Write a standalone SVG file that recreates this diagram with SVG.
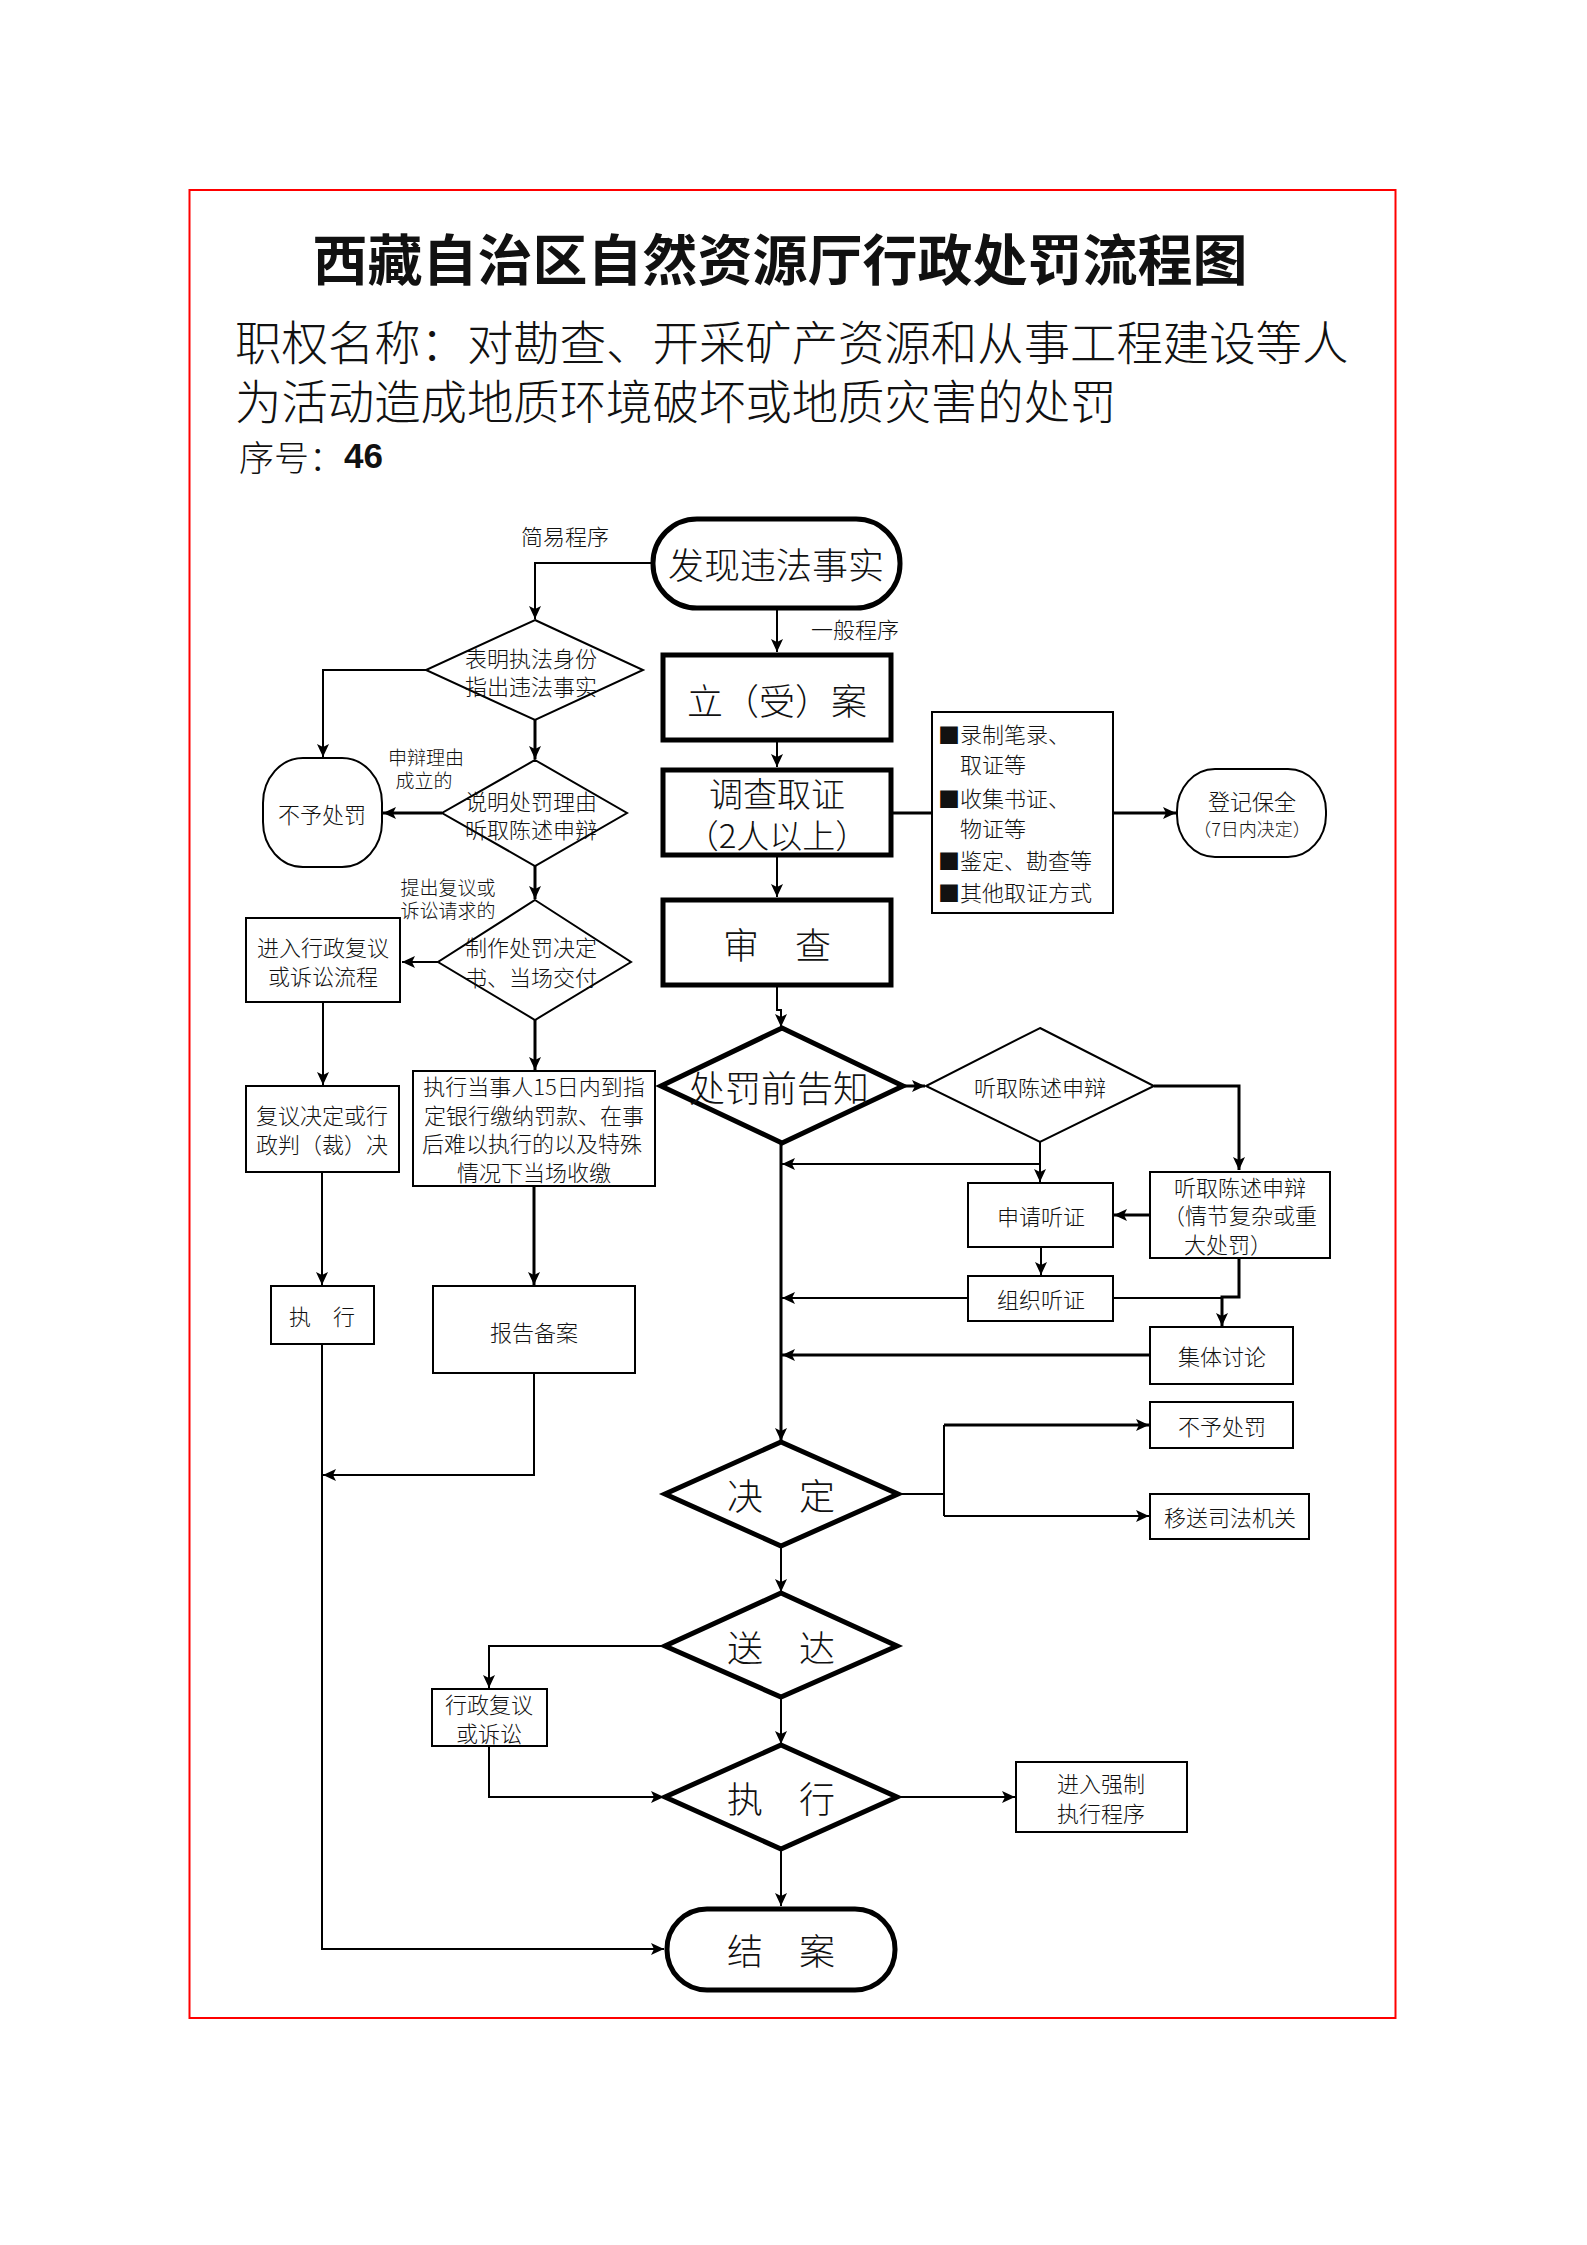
<svg xmlns="http://www.w3.org/2000/svg" width="1587" height="2245" viewBox="0 0 1587 2245">
<style>
text{font-family:"Noto Sans CJK SC","Liberation Sans",sans-serif;fill:#111;font-weight:300}
.c{text-anchor:middle;dominant-baseline:central}
.l{dominant-baseline:central}
.thick{fill:#fff;stroke:#000;stroke-width:5}
.thin{fill:#fff;stroke:#000;stroke-width:2}
.ln{fill:none;stroke:#000;stroke-width:2}
.lnb{fill:none;stroke:#000;stroke-width:3}
.f22{font-size:22px}
.f19{font-size:19px}
.f18{font-size:18px}
.f36{font-size:36px}
</style>
<defs>
<marker id="a" markerUnits="userSpaceOnUse" markerWidth="14" markerHeight="14" viewBox="0 0 14 14" refX="13" refY="7" orient="auto">
<path d="M0,1 L13,7 L0,13 L3,7 Z" fill="#000"/>
</marker>
</defs>
<rect x="189.5" y="190" width="1206" height="1828" fill="none" stroke="#f00" stroke-width="2"/>
<g id="title">
<text x="780" y="256" class="c" style="font-size:55px;font-weight:700">西藏自治区自然资源厅行政处罚流程图</text>
<text x="235" y="339" class="l" style="font-size:46.4px">职权名称：对勘查、开采矿产资源和从事工程建设等人</text>
<text x="235" y="398" class="l" style="font-size:46.4px">为活动造成地质环境破坏或地质灾害的处罚</text>
<text x="239" y="455" class="l" style="font-size:35px">序号：<tspan style="font-weight:700;font-family:'Liberation Sans',sans-serif">46</tspan></text>
</g>
<g id="connectors">
<path class="ln" d="M651,563 H535 V619" marker-end="url(#a)"/>
<path class="ln" d="M777,610 V652" marker-end="url(#a)"/>
<path class="ln" d="M426,670 H323 V757" marker-end="url(#a)"/>
<path class="lnb" d="M535,720 V759" marker-end="url(#a)"/>
<path class="lnb" d="M442,813 H383" marker-end="url(#a)"/>
<path class="lnb" d="M535,866 V899" marker-end="url(#a)"/>
<path class="ln" d="M438,962 H402" marker-end="url(#a)"/>
<path class="ln" d="M323,1002 V1085" marker-end="url(#a)"/>
<path class="lnb" d="M535,1020 V1070" marker-end="url(#a)"/>
<path class="ln" d="M322,1172 V1285" marker-end="url(#a)"/>
<path class="lnb" d="M534,1186 V1285" marker-end="url(#a)"/>
<path class="ln" d="M534,1373 V1475 H323" marker-end="url(#a)"/>
<path class="ln" d="M322,1344 V1949 H664" marker-end="url(#a)"/>
<path class="ln" d="M777,742 V767" marker-end="url(#a)"/>
<path class="ln" d="M777,857 V897" marker-end="url(#a)"/>
<path class="ln" d="M777,987 V1010 H781 V1027" marker-end="url(#a)"/>
<path class="lnb" d="M893,813 H932"/>
<path class="lnb" d="M1113,813 H1176" marker-end="url(#a)"/>
<path class="lnb" d="M903,1086 H925" marker-end="url(#a)"/>
<path class="ln" d="M1040,1142 V1182" marker-end="url(#a)"/>
<path class="ln" d="M1040,1164 H782" marker-end="url(#a)"/>
<path class="lnb" d="M1154,1086 H1239 V1170" marker-end="url(#a)"/>
<path class="lnb" d="M1150,1215 H1114" marker-end="url(#a)"/>
<path class="ln" d="M1041,1247 V1275" marker-end="url(#a)"/>
<path class="ln" d="M968,1298 H782" marker-end="url(#a)"/>
<path class="ln" d="M1113,1298 H1222"/>
<path class="lnb" d="M1239,1258 V1297 H1222 V1326" marker-end="url(#a)"/>
<path class="lnb" d="M1150,1355 H782" marker-end="url(#a)"/>
<path class="lnb" d="M781,1143 V1441" marker-end="url(#a)"/>
<path class="ln" d="M898,1494 H944"/>
<path class="ln" d="M944,1425 V1516"/>
<path class="lnb" d="M944,1425 H1149" marker-end="url(#a)"/>
<path class="ln" d="M944,1516 H1149" marker-end="url(#a)"/>
<path class="ln" d="M781,1546 V1592" marker-end="url(#a)"/>
<path class="ln" d="M665,1646 H489 V1688" marker-end="url(#a)"/>
<path class="ln" d="M489,1746 V1797 H664" marker-end="url(#a)"/>
<path class="ln" d="M781,1697 V1744" marker-end="url(#a)"/>
<path class="ln" d="M897,1797 H1015" marker-end="url(#a)"/>
<path class="ln" d="M781,1849 V1906" marker-end="url(#a)"/>
<text x="565" y="535" class="c f22">简易程序</text>
<text x="855" y="628" class="c f22">一般程序</text>
<text x="426" y="756" class="c f19">申辩理由</text>
<text x="424" y="779" class="c f19">成立的</text>
<text x="448" y="886" class="c f19">提出复议或</text>
<text x="448" y="909" class="c f19">诉讼请求的</text>
</g>
<g id="n-faxian">
<rect x="653" y="519" width="247" height="89" rx="44" ry="44" class="thick"/>
<text x="776" y="563" class="c f36">发现违法事实</text>
</g>
<g id="n-biaoming">
<polygon points="535,620 643,670 535,720 426,670" class="thin" stroke-width="1.5"/>
<text x="531" y="657" class="c f22">表明执法身份</text>
<text x="531" y="685" class="c f22">指出违法事实</text>
</g>
<g id="n-shuoming">
<polygon points="535,760 627,813 535,866 442,813" class="thin" stroke-width="1.5"/>
<text x="531" y="800" class="c f22">说明处罚理由</text>
<text x="531" y="828" class="c f22">听取陈述申辩</text>
</g>
<g id="n-zhizuo">
<polygon points="535,900 631,962 535,1020 438,962" class="thin" stroke-width="1.5"/>
<text x="531" y="946" class="c f22">制作处罚决定</text>
<text x="531" y="976" class="c f22">书、当场交付</text>
</g>
<g id="n-buyu1">
<rect x="263" y="758" width="119" height="109" rx="40" ry="45" class="thin"/>
<text x="322" y="813" class="c f22">不予处罚</text>
</g>
<g id="n-jinru">
<rect x="246" y="918" width="154" height="84" class="thin"/>
<text x="323" y="946" class="c f22">进入行政复议</text>
<text x="323" y="975" class="c f22">或诉讼流程</text>
</g>
<g id="n-fuyi">
<rect x="246" y="1086" width="153" height="86" class="thin"/>
<text x="322" y="1114" class="c f22">复议决定或行</text>
<text x="322" y="1143" class="c f22">政判（裁）决</text>
</g>
<g id="n-zhixing-dangshi">
<rect x="413" y="1071" width="242" height="115" class="thin"/>
<text x="534" y="1085" class="c f22">执行当事人15日内到指</text>
<text x="534" y="1114" class="c f22">定银行缴纳罚款、在事</text>
<text x="532" y="1142" class="c f22">后难以执行的以及特殊</text>
<text x="534" y="1171" class="c f22">情况下当场收缴</text>
</g>
<g id="n-zhixing1">
<rect x="271" y="1286" width="103" height="58" class="thin"/>
<text x="322" y="1315" class="c f22">执　行</text>
</g>
<g id="n-baogao">
<rect x="433" y="1286" width="202" height="87" class="thin"/>
<text x="534" y="1331" class="c f22">报告备案</text>
</g>
<g id="n-lian">
<rect x="663" y="655" width="228" height="85" class="thick"/>
<text x="777" y="699" class="c f36">立（受）案</text>
</g>
<g id="n-diaocha">
<rect x="663" y="770" width="228" height="85" class="thick"/>
<text x="777" y="792" class="c" style="font-size:34px">调查取证</text>
<text x="777" y="834" class="c" style="font-size:33px">（2人以上）</text>
</g>
<g id="n-shencha">
<rect x="663" y="900" width="228" height="85" class="thick"/>
<text x="777" y="943" class="c f36">审　查</text>
</g>
<g id="n-evidence">
<rect x="932" y="712" width="181" height="201" class="thin" stroke-width="1.5"/>
<text x="938" y="733" class="l f22">■录制笔录、</text>
<text x="960" y="763" class="l f22">取证等</text>
<text x="938" y="797" class="l f22">■收集书证、</text>
<text x="960" y="827" class="l f22">物证等</text>
<text x="938" y="859" class="l f22">■鉴定、勘查等</text>
<text x="938" y="891" class="l f22">■其他取证方式</text>
</g>
<g id="n-dengji">
<rect x="1177" y="769" width="149" height="88" rx="38" ry="42" class="thin"/>
<text x="1252" y="800" class="c f22">登记保全</text>
<text x="1252" y="828" class="c f18">（7日内决定）</text>
</g>
<g id="n-gaozhi">
<polygon points="782,1028 903,1086 782,1143 661,1086" class="thick"/>
<text x="779" y="1086" class="c f36">处罚前告知</text>
</g>
<g id="n-tingqu-d">
<polygon points="1040,1028 1154,1086 1040,1142 926,1086" class="thin" stroke-width="1.5"/>
<text x="1040" y="1086" class="c f22">听取陈述申辩</text>
</g>
<g id="n-shenqing">
<rect x="968" y="1183" width="145" height="64" class="thin"/>
<text x="1041" y="1215" class="c f22">申请听证</text>
</g>
<g id="n-tingqu-b">
<rect x="1150" y="1172" width="180" height="86" class="thin"/>
<text x="1240" y="1186" class="c f22">听取陈述申辩</text>
<text x="1240" y="1214" class="c f22">（情节复杂或重</text>
<text x="1228" y="1243" class="c f22">大处罚）</text>
</g>
<g id="n-zuzhi">
<rect x="968" y="1276" width="145" height="45" class="thin"/>
<text x="1041" y="1298" class="c f22">组织听证</text>
</g>
<g id="n-jiti">
<rect x="1150" y="1327" width="143" height="57" class="thin"/>
<text x="1222" y="1355" class="c f22">集体讨论</text>
</g>
<g id="n-jueding">
<polygon points="781,1442 898,1494 781,1546 665,1494" class="thick"/>
<text x="781" y="1494" class="c f36">决　定</text>
</g>
<g id="n-buyu2">
<rect x="1150" y="1402" width="143" height="46" class="thin"/>
<text x="1222" y="1425" class="c f22">不予处罚</text>
</g>
<g id="n-yisong">
<rect x="1150" y="1494" width="159" height="45" class="thin"/>
<text x="1230" y="1516" class="c f22">移送司法机关</text>
</g>
<g id="n-songda">
<polygon points="781,1593 897,1646 781,1697 665,1646" class="thick"/>
<text x="781" y="1646" class="c f36">送　达</text>
</g>
<g id="n-fuyi2">
<rect x="432" y="1689" width="115" height="57" class="thin" stroke-width="1.5"/>
<text x="489" y="1703" class="c f22">行政复议</text>
<text x="489" y="1732" class="c f22">或诉讼</text>
</g>
<g id="n-zhixing2">
<polygon points="781,1745 897,1797 781,1849 665,1797" class="thick"/>
<text x="781" y="1797" class="c f36">执　行</text>
</g>
<g id="n-qiangzhi">
<rect x="1016" y="1762" width="171" height="70" class="thin"/>
<text x="1101" y="1782" class="c f22">进入强制</text>
<text x="1101" y="1812" class="c f22">执行程序</text>
</g>
<g id="n-jiean">
<rect x="667" y="1909" width="228" height="81" rx="40" ry="40" class="thick"/>
<text x="781" y="1949" class="c f36">结　案</text>
</g>
</svg>
